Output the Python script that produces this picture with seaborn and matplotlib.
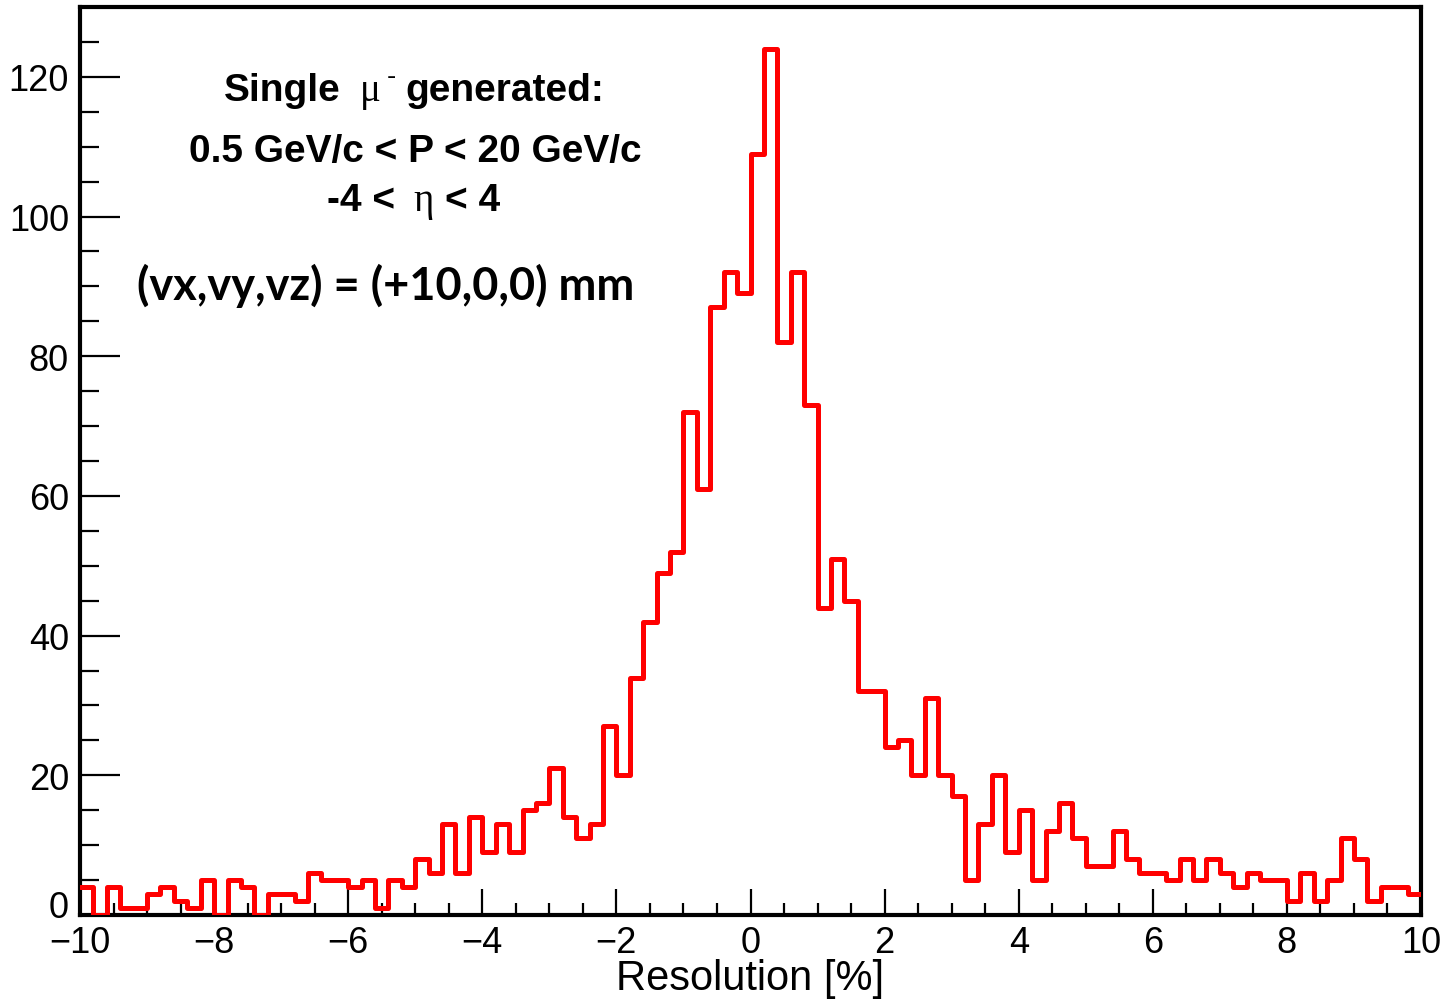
import numpy as np
import pandas as pd
import matplotlib
matplotlib.use("Agg")
import matplotlib.pyplot as plt
from matplotlib.transforms import ScaledTranslation
import seaborn as sns

# Momentum resolution histogram: 100 bins of 0.2 % from -10 % to +10 %
counts = [
    4, 0, 4, 1, 1, 3, 4, 2, 1, 5,
    0, 5, 4, 0, 3, 3, 2, 6, 5, 5,
    4, 5, 1, 5, 4, 8, 6, 13, 6, 14,
    9, 13, 9, 15, 16, 21, 14, 11, 13, 27,
    20, 34, 42, 49, 52, 72, 61, 87, 92, 89,
    109, 124, 82, 92, 73, 44, 51, 45, 32, 32,
    24, 25, 20, 31, 20, 17, 5, 13, 20, 9,
    15, 5, 12, 16, 11, 7, 7, 12, 8, 6,
    6, 5, 8, 5, 8, 6, 4, 6, 5, 5,
    2, 6, 2, 5, 11, 8, 2, 4, 4, 3,
]
x_range = (-10.0, 10.0)
bin_width = 0.2
bin_centers = np.round(x_range[0] + bin_width * (np.arange(len(counts)) + 0.5), 3)

x_ticks = [-10, -8, -6, -4, -2, 0, 2, 4, 6, 8, 10]
y_ticks = [0, 20, 40, 60, 80, 100, 120]
x_label = "Resolution [%]"

df = pd.DataFrame({"resolution": bin_centers, "entries": counts})

sns.set_theme(style="ticks")
plt.rcParams["font.family"] = ["Liberation Sans", "DejaVu Sans"]
plt.rcParams.update({"text.color": "black", "axes.labelcolor": "black",
                     "xtick.color": "black", "ytick.color": "black"})

W, H = 1444, 1003
fig = plt.figure(figsize=(W / 100, H / 100), dpi=100)
fig.patch.set_facecolor("white")

left, right, top, bottom = 80, 1421, 8, 916
ax = fig.add_axes([left / W, 1 - bottom / H, (right - left) / W, (bottom - top) / H])

sns.histplot(data=df, x="resolution", weights="entries",
             binwidth=bin_width, binrange=x_range,
             element="step", fill=False, color="#ff0000", linewidth=3.6, ax=ax)
for ln in ax.lines:
    ln.set_zorder(3)

ax.set_xlim(*x_range)
ax.set_ylim(0, 130)
ax.set_xticks(x_ticks)
ax.set_yticks(y_ticks)
ax.set_xticks(np.arange(-10, 10.01, 0.5), minor=True)
ax.set_yticks(np.arange(0, 130.01, 5), minor=True)
ax.set_xticklabels([f"{v:g}".replace("-", "\u2212") for v in x_ticks])
ax.set_yticklabels([str(v) for v in y_ticks])

ax.set_xlabel(x_label, fontsize=30, labelpad=-1, color="black")
ax.set_ylabel("")

for sp in ax.spines.values():
    sp.set_visible(True)
    sp.set_linewidth(3.0)
    sp.set_color("black")

ax.tick_params(axis="both", which="both", direction="in", color="black",
               labelcolor="black", top=False, right=False, width=1.6)
ax.tick_params(axis="x", which="major", length=19, labelsize=26, pad=7)
ax.tick_params(axis="x", which="minor", length=9)
ax.tick_params(axis="y", which="major", length=29, labelsize=26, pad=8)
ax.tick_params(axis="y", which="minor", length=14)
ax.grid(False)

# nudge the zero label up a little so it clears the x-axis labels
zero_lab = ax.get_yticklabels()[0]
zero_lab.set_transform(zero_lab.get_transform()
                       + ScaledTranslation(0, 0.11, fig.dpi_scale_trans))


def fpos(px, py):
    return px / W, 1 - py / H


bold = dict(fontsize=28, fontweight="bold", color="black",
            family=["Liberation Sans", "DejaVu Sans"], va="baseline")
greek = dict(fontsize=28, color="black",
             family=["Liberation Serif", "DejaVu Serif"], va="baseline")

# Generation conditions
fig.text(*fpos(224, 101), "Single", ha="left", **bold)
fig.text(*fpos(360, 101), "\u03bc", ha="left", **greek)
fig.text(*fpos(387, 84), "-", ha="left", fontsize=20, color="black",
         family=["Liberation Sans"], va="baseline")
fig.text(*fpos(405, 101), "generated:", ha="left", **bold)
fig.text(*fpos(415, 162), "0.5 GeV/c < P < 20 GeV/c", ha="center", **bold)
fig.text(*fpos(327, 211), "-4 <", ha="left", **bold)
fig.text(*fpos(413, 211), "\u03b7", ha="left", **greek)
fig.text(*fpos(445, 211), "< 4", ha="left", **bold)
fig.text(*fpos(137, 300), "(vx,vy,vz) = (+10,0,0) mm", ha="left",
         fontsize=32.5, fontweight="bold", color="black",
         family=["Lato", "DejaVu Sans"], va="baseline")

fig.savefig("out.png", dpi=100, facecolor="white")
